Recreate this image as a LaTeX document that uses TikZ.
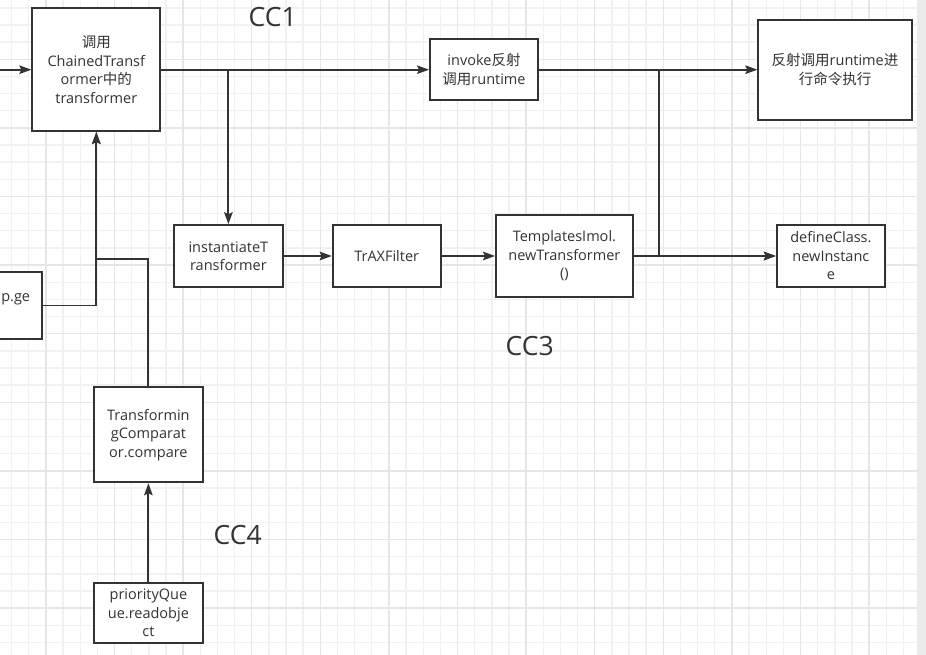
\documentclass[tikz,border=0pt]{standalone}
\usepackage{fontspec}
\setmainfont{Open Sans}
\newfontfamily\cjk{Noto Sans CJK SC}
\usetikzlibrary{arrows.meta}

\definecolor{linec}{HTML}{333333}
\definecolor{textc}{HTML}{333333}
\definecolor{gridminor}{HTML}{F1F1F1}
\definecolor{gridmajor}{HTML}{E6E6E6}
\definecolor{railc}{HTML}{EBEBEB}

\tikzset{
  box/.style={draw=linec, fill=white, line width=1.9pt, align=center,
    inner sep=0pt, text=textc, font=\fontsize{14.5}{18.5}\selectfont},
  arr/.style={draw=linec, line width=1.9pt,
    -{Stealth[length=12pt, width=8.5pt, inset=2pt]}},
  cclabel/.style={text=textc, inner sep=0pt, font=\fontsize{26.5}{30}\selectfont},
  tag/.style={text=textc, inner sep=0pt, font=\fontsize{14.5}{18.5}\selectfont}
}

\begin{document}
\begin{tikzpicture}[x=1pt, y=-1pt]
\useasboundingbox (0,0) rectangle (926,655);
\fill[white] (0,0) rectangle (926,655);

% background grid: fine lines, every fourth one a shade darker
\foreach \k in {0,...,52} {
  \pgfmathsetmacro\gx{11.6+17.15*\k}
  \draw[gridminor, line width=1.4pt] (\gx,0) -- (\gx,655);
}
\foreach \k in {0,...,37} {
  \pgfmathsetmacro\gy{7.85+17.15*\k}
  \draw[gridminor, line width=1.4pt] (0,\gy) -- (926,\gy);
}
\foreach \k in {2,6,...,50} {
  \pgfmathsetmacro\gx{11.6+17.15*\k}
  \draw[gridmajor, line width=1.4pt] (\gx,0) -- (\gx,655);
}
\foreach \k in {3,7,...,35} {
  \pgfmathsetmacro\gy{7.85+17.15*\k}
  \draw[gridmajor, line width=1.4pt] (0,\gy) -- (926,\gy);
}
\fill[railc] (917,0) rectangle (926,655);

% boxes
\node[box, minimum width=128pt, minimum height=122.7pt] (chain) at (96.3,69.7)
  {{\cjk 调用}\\ChainedTransf\\ormer{\cjk 中的}\\transformer};
\node[box, minimum width=108pt, minimum height=61.3pt] (invoke) at (484,69.7)
  {invoke{\cjk 反射}\\{\cjk 调用}runtime};
\node[box, minimum width=153.4pt, minimum height=100pt] (exec) at (835,69.7)
  {{\cjk 反射调用}runtime{\cjk 进}\\{\cjk 行命令执行}};
\node[box, minimum width=108.7pt, minimum height=61.7pt] (inst) at (228.4,256)
  {instantiateT\\ransformer};
\node[box, minimum width=108pt, minimum height=61.7pt] (trax) at (386.7,256)
  {TrAXFilter};
\node[box, minimum width=136.7pt, minimum height=81.7pt] (tmpl) at (564.4,256)
  {TemplatesImol.\\newTransformer\\()};
\node[box, minimum width=108.3pt, minimum height=61.7pt] (defc) at (830.9,256)
  {defineClass.\\newInstanc\\e};
\node[box, minimum width=108.3pt, minimum height=67.6pt] (lazy) at (-11.9,305.5) {};
\node[tag, anchor=base east] (lazytxt) at (30.3,301.6) {p.ge};
\node[box, minimum width=108.7pt, minimum height=95pt] (tcmp) at (148.4,434.8)
  {Transformin\\gComparat\\or.compare};
\node[box, minimum width=108.7pt, minimum height=60.6pt] (pq) at (148.4,613)
  {priorityQue\\ue.readobje\\ct};

% group labels
\node[cclabel, anchor=base west] (cc1) at (248.5,26.7) {CC1};
\node[cclabel, anchor=base west] (cc3) at (505.5,355) {CC3};
\node[cclabel, anchor=base west] (cc4) at (213.5,544) {CC4};

% connectors
\coordinate (entry) at (0,69.7);
\draw[arr] (entry) -- (chain.west);
\draw[arr] (chain.east) -- (invoke.west);
\draw[arr] (inst.north |- chain.east) -- (inst.north);
\draw[arr] (invoke.east) -- (exec.west);
\draw[arr] (invoke.east) -- ++(119.7,0) |- (defc.west);
\draw[arr] (inst.east) -- (trax.west);
\draw[arr] (trax.east) -- (tmpl.west);
\draw[arr] (tmpl.east) -- (defc.west);
\draw[arr] (lazy.east) -| (chain.south);
\draw[arr] (tcmp.north) -- ++(0,-127.3) -| (chain.south);
\draw[arr] (pq.north) -- (tcmp.south);
\end{tikzpicture}
\end{document}
